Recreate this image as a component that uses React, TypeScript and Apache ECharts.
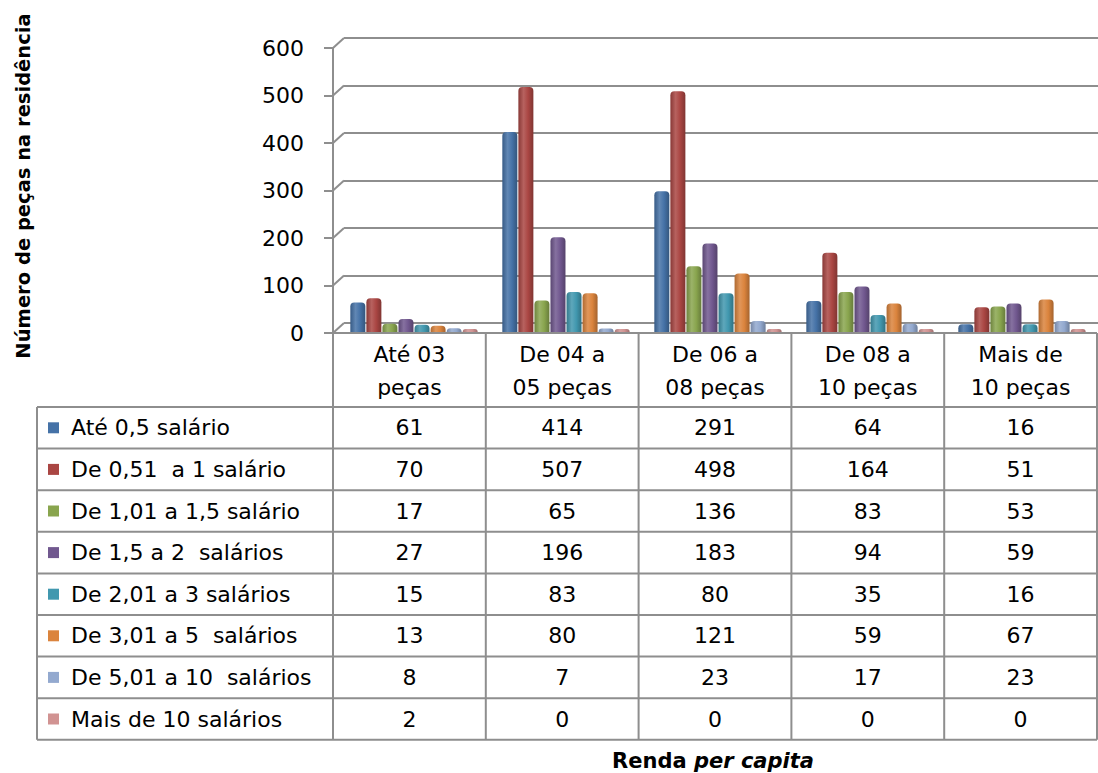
import React, { useEffect, useRef } from 'react';
import * as echarts from 'echarts';

// ---------- data ----------
const categories = ['Até 03\npeças', 'De 04 a\n05 peças', 'De 06 a\n08 peças', 'De 08 a\n10 peças', 'Mais de\n10 peças'];
const seriesNames = [
  'Até 0,5 salário',
  'De 0,51  a 1 salário',
  'De 1,01 a 1,5 salário',
  'De 1,5 a 2  salários',
  'De 2,01 a 3 salários',
  'De 3,01 a 5  salários',
  'De 5,01 a 10  salários',
  'Mais de 10 salários',
];
const ate05 = [61, 414, 291, 64, 16];
const de051a1 = [70, 507, 498, 164, 51];
const de101a15 = [17, 65, 136, 83, 53];
const de15a2 = [27, 196, 183, 94, 59];
const de201a3 = [15, 83, 80, 35, 16];
const de301a5 = [13, 80, 121, 59, 67];
const de501a10 = [8, 7, 23, 17, 23];
const mais10 = [2, 0, 0, 0, 0];
const seriesValues = [ate05, de051a1, de101a15, de15a2, de201a3, de301a5, de501a10, mais10];
const yTicks = [0, 100, 200, 300, 400, 500, 600];
const yTitle = 'Número de peças na residência';
const xTitleA = 'Renda ';
const xTitleB = 'per capita';

// ---------- style ----------
const colors = ['#4572A7', '#AA4643', '#89A54E', '#71588F', '#4198AF', '#DB843D', '#93A9CF', '#D19392'];
const FONT = 'DejaVu Sans';
const FS = 22;
const LINE = '#8e8e8e';

const AXIS_X = 333;
const PLOT_RIGHT = 1097;
const FRONT_TOP = 48;
const FRONT_BOTTOM = 333;
const DX = 11;
const DY = -10;
const TABLE_LEFT = 37;
const HEADER_BOTTOM = 407;
const ROW_H = 41.6;
const COL_W = (PLOT_RIGHT - AXIS_X) / categories.length;

function shade(hex: string, f: number) {
  const n = parseInt(hex.slice(1), 16);
  const ch = [n >> 16, (n >> 8) & 255, n & 255].map((c) =>
    Math.round(f < 0 ? c * (1 + f) : c + (255 - c) * f)
  );
  return `rgb(${ch[0]},${ch[1]},${ch[2]})`;
}

function buildGraphic() {
  const els: any[] = [];
  const yMax = yTicks[yTicks.length - 1];
  const yF = (v: number) => FRONT_BOTTOM - (v / yMax) * (FRONT_BOTTOM - FRONT_TOP);
  const lineStyle = { stroke: LINE, lineWidth: 2 };
  yTicks.forEach((v) => {
    els.push({ type: 'line', shape: { x1: AXIS_X, y1: yF(v), x2: AXIS_X + DX, y2: yF(v) + DY }, style: lineStyle, z: 5 });
  });
  els.push({ type: 'line', shape: { x1: AXIS_X, y1: FRONT_BOTTOM, x2: PLOT_RIGHT, y2: FRONT_BOTTOM }, style: lineStyle, z: 5 });
  const nRows = seriesNames.length;
  const tableBottom = HEADER_BOTTOM + nRows * ROW_H;
  for (let i = 0; i <= nRows; i++) {
    const y = HEADER_BOTTOM + i * ROW_H;
    els.push({ type: 'line', shape: { x1: TABLE_LEFT, y1: y, x2: PLOT_RIGHT, y2: y }, style: lineStyle, z: 5 });
  }
  els.push({ type: 'line', shape: { x1: TABLE_LEFT, y1: HEADER_BOTTOM, x2: TABLE_LEFT, y2: tableBottom }, style: lineStyle, z: 5 });
  for (let k = 0; k <= categories.length; k++) {
    const x = AXIS_X + k * COL_W;
    els.push({ type: 'line', shape: { x1: x, y1: FRONT_BOTTOM, x2: x, y2: tableBottom }, style: lineStyle, z: 5 });
  }
  categories.forEach((c, k) => {
    els.push({
      type: 'text', x: AXIS_X + (k + 0.5) * COL_W, y: (FRONT_BOTTOM + HEADER_BOTTOM) / 2 + 1, z: 6,
      style: { text: c, fontSize: FS, fontFamily: FONT, fill: '#000', align: 'center', verticalAlign: 'middle', lineHeight: 33 },
    });
  });
  seriesNames.forEach((name, i) => {
    const cy = HEADER_BOTTOM + (i + 0.5) * ROW_H;
    els.push({ type: 'rect', shape: { x: 48, y: cy - 5.5, width: 11, height: 11 }, style: { fill: colors[i] }, z: 6 });
    els.push({
      type: 'text', x: 71, y: cy, z: 6,
      style: { text: name, fontSize: FS, fontFamily: FONT, fill: '#000', align: 'left', verticalAlign: 'middle' },
    });
    seriesValues[i].forEach((v, k) => {
      els.push({
        type: 'text', x: AXIS_X + (k + 0.5) * COL_W, y: cy, z: 6,
        style: { text: String(v), fontSize: FS, fontFamily: FONT, fill: '#000', align: 'center', verticalAlign: 'middle' },
      });
    });
  });
  els.push({
    type: 'text', x: 23, y: 186, rotation: Math.PI / 2, z: 6,
    style: { text: yTitle, fontSize: 19.5, fontWeight: 'bold', fontFamily: FONT, fill: '#000', align: 'center', verticalAlign: 'middle' },
  });
  els.push({
    type: 'text', x: 713, y: 761, z: 6,
    style: {
      text: `{a|${xTitleA}}{b|${xTitleB}}`, align: 'center', verticalAlign: 'middle',
      rich: {
        a: { fontSize: 21, fontWeight: 'bold', fontFamily: FONT, fill: '#000', color: '#000' },
        b: { fontSize: 21, fontWeight: 'bold', fontStyle: 'italic', fontFamily: FONT, fill: '#000', color: '#000' },
      },
    },
  });
  return els;
}

export default function App() {
  const ref = useRef<HTMLDivElement>(null);
  useEffect(() => {
    if (!ref.current) return;
    const chart = echarts.init(ref.current, null, { renderer: 'svg' });
    const yMax = yTicks[yTicks.length - 1];
    const interval = yTicks[1] - yTicks[0];
    chart.setOption({
      animation: false,
      backgroundColor: '#fff',
      grid: [
        { left: 338, top: 42, width: 764, height: 290 },
        { left: AXIS_X, top: FRONT_TOP, width: PLOT_RIGHT - AXIS_X, height: FRONT_BOTTOM - FRONT_TOP },
        { left: AXIS_X + DX, top: FRONT_TOP + DY, width: 800, height: FRONT_BOTTOM - FRONT_TOP },
      ],
      xAxis: [
        { type: 'category', gridIndex: 0, data: categories, show: false },
        { type: 'category', gridIndex: 1, data: categories, show: false },
        { type: 'category', gridIndex: 2, data: categories, show: false },
      ],
      yAxis: [
        { type: 'value', gridIndex: 0, min: 0, max: yMax, interval, show: false },
        {
          type: 'value', gridIndex: 1, min: 0, max: yMax, interval,
          axisLine: { show: true, lineStyle: { color: LINE, width: 2 } },
          axisTick: { show: true, length: 9, lineStyle: { color: LINE, width: 2 } },
          axisLabel: { fontSize: FS, fontFamily: FONT, color: '#000', margin: 29 },
          splitLine: { show: false },
        },
        {
          type: 'value', gridIndex: 2, min: 0, max: yMax, interval,
          axisLine: { show: false }, axisTick: { show: false }, axisLabel: { show: false },
          splitLine: { show: true, lineStyle: { color: LINE, width: 2 } },
        },
      ],
      series: seriesValues.map((vals, i) => ({
        type: 'bar',
        name: seriesNames[i],
        xAxisIndex: 0,
        yAxisIndex: 0,
        data: vals,
        barWidth: 15,
        barGap: '7%',
        barMinHeight: i === seriesValues.length - 1 ? 3 : 0,
        z: 3,
        itemStyle: {
          borderRadius: [4, 4, 0, 0],
          color: new echarts.graphic.LinearGradient(0, 0, 1, 0, [
            { offset: 0, color: shade(colors[i], -0.2) },
            { offset: 0.35, color: shade(colors[i], 0.15) },
            { offset: 0.65, color: colors[i] },
            { offset: 1, color: shade(colors[i], -0.25) },
          ]),
        },
      })),
      graphic: buildGraphic(),
    });
    return () => chart.dispose();
  }, []);
  return <div ref={ref} style={{ position: 'fixed', left: 0, top: 0, width: 1098, height: 773 }} />;
}
